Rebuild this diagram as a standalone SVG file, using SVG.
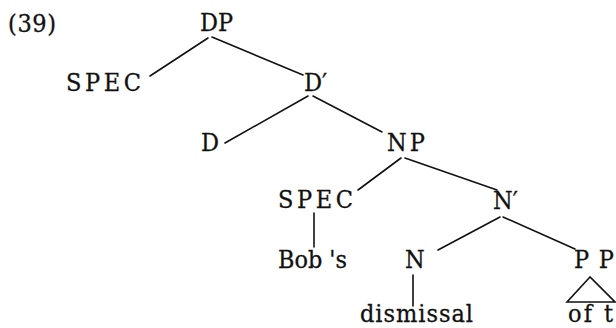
<svg xmlns="http://www.w3.org/2000/svg" width="616" height="328" viewBox="0 0 616 328">
<style>
  text { font-family: "DejaVu Serif Condensed", "DejaVu Serif", "Liberation Serif", serif; font-stretch: condensed; font-size: 25px; fill: #111; stroke: #111; stroke-width: 0.3; }
  .edge { stroke: #111; stroke-width: 1.6; fill: none; stroke-linecap: round; }
</style>
<rect width="616" height="328" fill="#fff"/>
<g id="label-39"><text x="8" y="32" textLength="48" lengthAdjust="spacing">(39)</text></g>
<g id="node-DP"><text x="200" y="31" textLength="33" lengthAdjust="spacingAndGlyphs">DP</text></g>
<g id="node-SPEC1"><text x="66" y="91" textLength="75" lengthAdjust="spacing">SPEC</text></g>
<g id="node-Dbar"><text x="304" y="91">D′</text></g>
<g id="node-D"><text x="201" y="151">D</text></g>
<g id="node-NP"><text x="387" y="151" textLength="38" lengthAdjust="spacing">NP</text></g>
<g id="node-SPEC2"><text x="278" y="208" textLength="75" lengthAdjust="spacing">SPEC</text></g>
<g id="node-Nbar"><text x="493" y="209">N′</text></g>
<g id="node-Bobs"><text x="278" y="268" textLength="69" lengthAdjust="spacingAndGlyphs">Bob 's</text></g>
<g id="node-N"><text x="405" y="268">N</text></g>
<g id="node-PP"><text x="574" y="268" textLength="40" lengthAdjust="spacing">PP</text></g>
<g id="node-dismissal"><text x="360" y="322" textLength="113" lengthAdjust="spacing">dismissal</text></g>
<g id="node-oft">
  <polygon class="edge" points="590,277 567,302 615,302"/>
  <text x="568" y="322" textLength="45" lengthAdjust="spacing">of t</text>
</g>
<g id="connectors">
  <line class="edge" x1="208" y1="38" x2="150" y2="76"/>
  <line class="edge" x1="212" y1="37" x2="303" y2="75"/>
  <line class="edge" x1="308" y1="96" x2="225" y2="143"/>
  <line class="edge" x1="313" y1="96" x2="382" y2="132"/>
  <line class="edge" x1="401" y1="158" x2="358" y2="190"/>
  <line class="edge" x1="405" y1="158" x2="497" y2="190"/>
  <line class="edge" x1="314" y1="213" x2="314" y2="247"/>
  <line class="edge" x1="500" y1="217" x2="438" y2="250"/>
  <line class="edge" x1="503" y1="217" x2="575" y2="249"/>
  <line class="edge" x1="413" y1="275" x2="413" y2="306"/>
</g>
</svg>
